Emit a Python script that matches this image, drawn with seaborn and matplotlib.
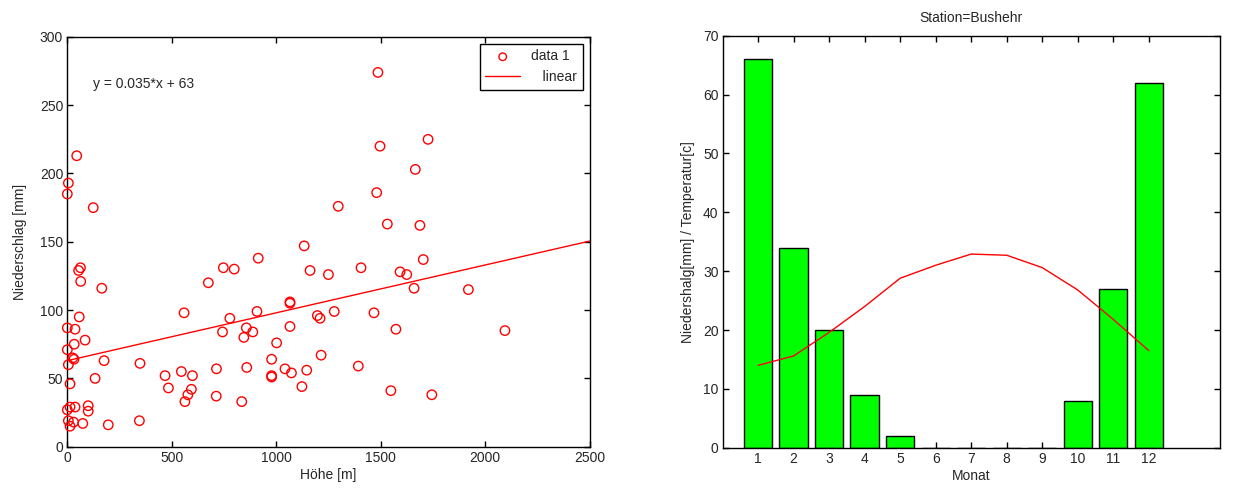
import matplotlib
matplotlib.use("Agg")
import matplotlib.pyplot as plt
import numpy as np
import seaborn as sns

# Höhe [m] / Niederschlag [mm] der Stationen
hoehe = [
    45, 5, 0, 124, 63, 54, 64, 165, 57, 0, 37, 85, 33, 0, 26, 32, 5, 176, 348, 133,
    13, 13, 37, 100, 100, 0, 5, 30, 13, 74, 196, 345, 468, 484, 546, 599, 594, 577,
    563, 559, 675, 747, 799, 914, 1134, 1162, 1250, 1066, 1066, 1066, 908, 778, 743,
    857, 888, 845, 1002, 978, 1215, 714, 859, 1042, 1073, 1146, 978, 978, 1123, 713,
    835, 1197, 1210, 1278, 1468, 1573, 2095, 1393, 1549, 1745, 1920, 1660, 1406,
    1593, 1625, 1704, 1688, 1532, 1297, 1481, 1666, 1497, 1727, 1487,
]
niederschlag = [
    213, 193, 185, 175, 131, 129, 121, 116, 95, 87, 86, 78, 75, 71, 65, 64, 60, 63, 61, 50,
    46, 29, 29, 30, 26, 27, 19, 18, 15, 17, 16, 19, 52, 43, 55, 52, 42, 38,
    33, 98, 120, 131, 130, 138, 147, 129, 126, 106, 105, 88, 99, 94, 84,
    87, 84, 80, 76, 64, 67, 57, 58, 57, 54, 56, 52, 51, 44, 37,
    33, 96, 94, 99, 98, 86, 85, 59, 41, 38, 115, 116, 131,
    128, 126, 137, 162, 163, 176, 186, 203, 220, 225, 274,
]

# lineare Regression
steigung = 0.035
achsenabschnitt = 63
fit_x = [0, 2500]

# Station Bushehr
monate = [1, 2, 3, 4, 5, 6, 7, 8, 9, 10, 11, 12]
niederschlag_monat = [66, 34, 20, 9, 2, 0, 0, 0, 0, 8, 27, 62]
temperatur = [14.0, 15.6, 19.6, 24.0, 28.8, 31.0, 32.9, 32.7, 30.6, 26.8, 21.8, 16.5]

sns.set_style("ticks")
plt.rcParams["font.family"] = ["Liberation Sans", "DejaVu Sans"]
plt.rcParams["font.size"] = 10
plt.rcParams["xtick.direction"] = "in"
plt.rcParams["ytick.direction"] = "in"

fig = plt.figure(figsize=(12.49, 4.90), dpi=100)
ax1 = fig.add_axes([0.0539, 0.0884, 0.4181, 0.8363])
ax2 = fig.add_axes([0.5786, 0.0863, 0.3980, 0.8408])

# --- linkes Diagramm ---
sns.scatterplot(x=hoehe, y=niederschlag, ax=ax1, marker="o", s=46,
                facecolors="none", edgecolor="red", linewidth=1,
                clip_on=False, label="data 1", zorder=3)
fit_y = [achsenabschnitt + steigung * v for v in fit_x]
sns.lineplot(x=fit_x, y=fit_y, ax=ax1, color="red", linewidth=1, label="   linear")
ax1.set_xlim(0, 2500)
ax1.set_ylim(0, 300)
ax1.set_xticks(np.arange(0, 2501, 500))
ax1.set_yticks(np.arange(0, 301, 50))
ax1.set_xlabel("Höhe [m]", labelpad=2)
ax1.set_ylabel("Niederschlag [mm]", labelpad=9)
ax1.text(0.05, 0.885, "y = 0.035*x + 63", transform=ax1.transAxes,
         ha="left", va="center", fontsize=10)
leg = ax1.legend(loc="upper right", fancybox=False, edgecolor="black",
                 framealpha=1, borderaxespad=0.5, handlelength=2.5,
                 markerscale=0.8)
leg.get_frame().set_linewidth(1)

# --- rechtes Diagramm ---
sns.barplot(x=monate, y=niederschlag_monat, ax=ax2, native_scale=True,
            color="#00ff00", saturation=1, edgecolor="black", linewidth=1,
            width=0.8, zorder=2)
sns.lineplot(x=monate, y=temperatur, ax=ax2, color="red", linewidth=1, zorder=3)
ax2.set_xlim(0, 14)
ax2.set_ylim(0, 70)
ax2.set_xticks(monate)
ax2.set_xticklabels([str(m) for m in monate])
ax2.set_yticks(np.arange(0, 71, 10))
ax2.set_xlabel("Monat", labelpad=2)
ax2.set_ylabel("Niedershalg[mm] / Temperatur[c]", labelpad=6)
ax2.set_title("Station=Bushehr", fontsize=10, pad=10)

for ax in (ax1, ax2):
    ax.tick_params(axis="both", which="both", top=True, right=True,
                   length=4, width=1, labelsize=10, color="black", pad=3)
    for sp in ax.spines.values():
        sp.set_visible(True)
        sp.set_linewidth(1)
        sp.set_color("black")

fig.savefig("out.png", dpi=100)
